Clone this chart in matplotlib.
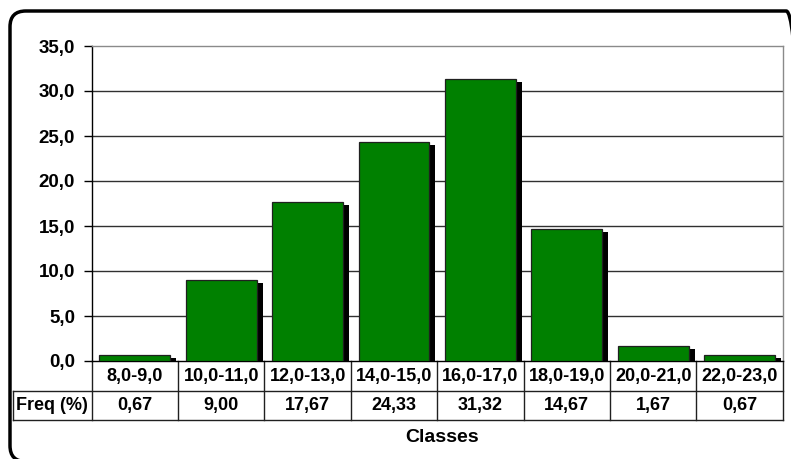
import numpy as np
import matplotlib
matplotlib.use("Agg")
import matplotlib.pyplot as plt
from matplotlib.patches import FancyBboxPatch
from matplotlib.transforms import blended_transform_factory

# data
classes = ["8,0-9,0", "10,0-11,0", "12,0-13,0", "14,0-15,0",
           "16,0-17,0", "18,0-19,0", "20,0-21,0", "22,0-23,0"]
freq = [0.67, 9.00, 17.67, 24.33, 31.32, 14.67, 1.67, 0.67]
freq_labels = ["0,67", "9,00", "17,67", "24,33", "31,32", "14,67", "1,67", "0,67"]
yticks = [0, 5, 10, 15, 20, 25, 30, 35]
ytick_labels = ["0,0", "5,0", "10,0", "15,0", "20,0", "25,0", "30,0", "35,0"]

plt.rcParams['font.family'] = ['Liberation Sans', 'DejaVu Sans']
plt.rcParams['font.weight'] = 'bold'

W, H = 791, 459
fig = plt.figure(figsize=(W / 100, H / 100), dpi=100)

# outer rounded frame, right and bottom edges run off the picture
frame = FancyBboxPatch((10 / W, -2.5 / H), 792 / W, 450.5 / H,
                       boxstyle="round,pad=0,rounding_size=0.02",
                       transform=fig.transFigure, fill=False,
                       edgecolor='black', linewidth=2.5, mutation_aspect=W / H)
fig.patches.append(frame)

left, right, top, bottom = 91.7, 782.7, 46, 361
ax = fig.add_axes([left / W, 1 - bottom / H, (right - left) / W, (bottom - top) / H])

n = len(freq)
x = np.arange(n) + 0.5
px_x = (right - left) / n          # pixels per category
px_y = (bottom - top) / 35.0       # pixels per unit

# shadows
ax.bar(x + 6 / px_x, np.array(freq) - 3 / px_y, width=0.82, color='black',
       edgecolor='none', zorder=2)
# bars
ax.bar(x, freq, width=0.82, color='#008000', edgecolor='#202020',
       linewidth=0.9, zorder=3)

ax.set_xlim(0, n)
ax.set_ylim(0, 35)
ax.set_yticks(yticks)
ax.set_yticklabels(ytick_labels, fontsize=13.5, fontweight='bold')
ax.tick_params(axis='y', direction='out', length=6, width=1, pad=6)
ax.set_xticks([])
for yv in yticks[1:-1]:
    ax.axhline(yv, color='#303030', linewidth=1, zorder=1)
ax.spines['top'].set_color('#8a8a8a')
ax.spines['right'].set_color('#8a8a8a')
ax.spines['left'].set_color('black')
ax.spines['bottom'].set_color('black')
for s in ax.spines.values():
    s.set_linewidth(1)

# data table below the axis
tr = blended_transform_factory(ax.transData, ax.transAxes)
ph = bottom - top
row1 = -30 / ph
row2 = -59 / ph
x0 = (13 - left) / px_x
lc = '#202020'
for i in range(n + 1):
    ax.plot([i, i], [0, row2], color=lc, lw=1, transform=tr, clip_on=False)
ax.plot([x0, x0], [row1, row2], color=lc, lw=1, transform=tr, clip_on=False)
ax.plot([x0, n], [row1, row1], color=lc, lw=1, transform=tr, clip_on=False)
ax.plot([x0, n], [row2, row2], color=lc, lw=1, transform=tr, clip_on=False)

for i in range(n):
    ax.text(x[i], row1 / 2, classes[i], transform=tr, ha='center', va='center',
            fontsize=13, fontweight='bold')
    ax.text(x[i], (row1 + row2) / 2, freq_labels[i], transform=tr, ha='center',
            va='center', fontsize=13, fontweight='bold')
ax.text(x0 / 2, (row1 + row2) / 2, "Freq (%)", transform=tr, ha='center',
        va='center', fontsize=13, fontweight='bold')

ax.text(0.507, (bottom - 438) / ph, "Classes", transform=ax.transAxes,
        ha='center', va='center', fontsize=14, fontweight='bold')

fig.savefig("out.png", dpi=100)
